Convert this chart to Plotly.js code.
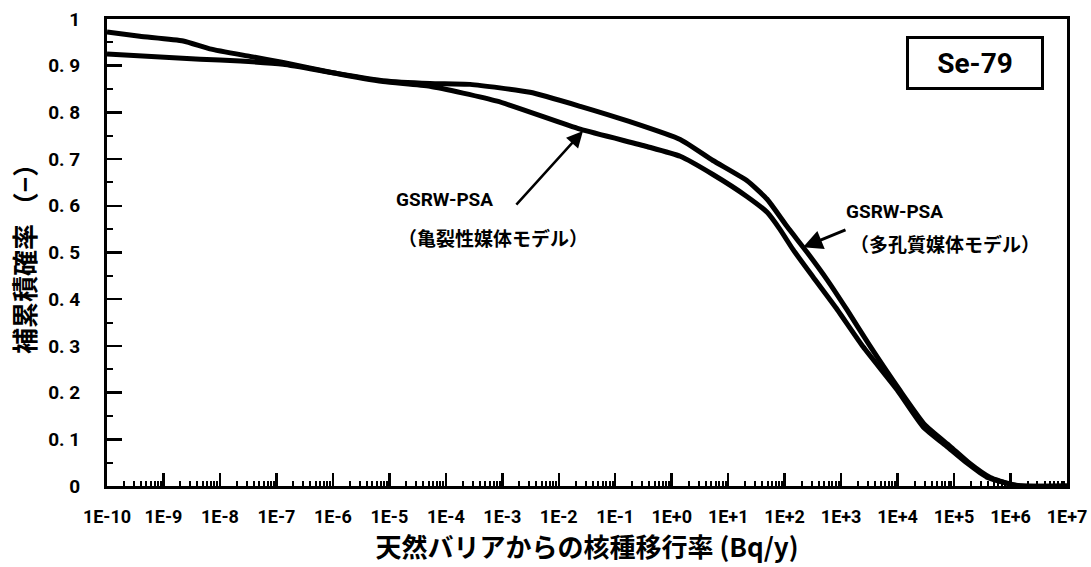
<!DOCTYPE html>
<html>
<head>
<meta charset="utf-8">
<script src="https://cdn.plot.ly/plotly-3.0.1.min.js"></script>
<style>
html,body{margin:0;padding:0;background:#fff;}
#chart{width:1091px;height:567px;}
</style>
</head>
<body>
<div id="chart"></div>
<script>
// Fractured medium model (亀裂性媒体モデル): log10 of release rate (Bq/y) and complementary cumulative probability
const fracLogX = [-10, -9.42, -8.65, -8.18, -7.47, -6.88, -6.0, -5.11, -4.28, -3.09, -1.62, -0.44, 0.15, 0.73, 1.33, 1.69, 1.92, 2.15, 2.50, 2.93, 3.39, 3.99, 4.45, 4.88, 5.23, 5.58, 5.94, 6.17, 7];
const fracP    = [0.972, 0.963, 0.953, 0.936, 0.92, 0.907, 0.885, 0.866, 0.856, 0.824, 0.764, 0.727, 0.706, 0.667, 0.62, 0.586, 0.549, 0.506, 0.448, 0.378, 0.298, 0.206, 0.127, 0.084, 0.049, 0.019, 0.006, 0, 0];
// Porous medium model (多孔質媒体モデル)
const poroLogX = [-10, -8.35, -7.64, -6.88, -6.0, -5.11, -4.28, -3.57, -2.51, -1.62, -0.74, 0.15, 0.73, 1.33, 1.69, 2.04, 2.40, 2.75, 3.10, 3.51, 4.04, 4.49, 4.93, 5.28, 5.64, 5.99, 6.26, 7];
const poroP    = [0.925, 0.914, 0.91, 0.903, 0.885, 0.868, 0.862, 0.86, 0.843, 0.813, 0.78, 0.742, 0.697, 0.654, 0.614, 0.556, 0.5, 0.442, 0.378, 0.30, 0.205, 0.13, 0.085, 0.048, 0.018, 0.004, 0, 0];

const xTickExp = [-10,-9,-8,-7,-6,-5,-4,-3,-2,-1,0,1,2,3,4,5,6,7];
const xTickText = ["1E-10","1E-9","1E-8","1E-7","1E-6","1E-5","1E-4","1E-3","1E-2","1E-1","1E+0","1E+1","1E+2","1E+3","1E+4","1E+5","1E+6","1E+7"];
const yTickVals = [0,0.1,0.2,0.3,0.4,0.5,0.6,0.7,0.8,0.9,1];
const yTickText = ["0","0. 1","0. 2","0. 3","0. 4","0. 5","0. 6","0. 7","0. 8","0. 9","1"];

const pow10 = a => a.map(e => Math.pow(10, e));
const minorVals = [];
for (let k = -10; k < 7; k++) for (let m = 2; m <= 9; m++) minorVals.push(m * Math.pow(10, k));

const latin = "Roboto, 'Liberation Sans', sans-serif";
const cjk = "'Noto Sans CJK JP', 'Noto Sans', sans-serif";

const traces = [
  {x: pow10(fracLogX), y: fracP, mode: 'lines', line: {color: '#000', width: 5, shape: 'spline', smoothing: 0.5}, name: '亀裂性媒体モデル', showlegend: false},
  {x: pow10(poroLogX), y: poroP, mode: 'lines', line: {color: '#000', width: 5, shape: 'spline', smoothing: 0.5}, name: '多孔質媒体モデル', showlegend: false},
  {x: [1e-10], y: [0], xaxis: 'x2', mode: 'markers', marker: {opacity: 0}, showlegend: false, hoverinfo: 'skip'}
];

const layout = {
  width: 1091, height: 567,
  margin: {l: 107, r: 24, t: 19, b: 81},
  paper_bgcolor: '#fff', plot_bgcolor: '#fff',
  showlegend: false,
  xaxis: {
    type: 'log', range: [-10, 7],
    tickvals: pow10(xTickExp), ticktext: xTickText, tickangle: 0,
    ticks: 'inside', ticklen: 13, tickwidth: 2.5, tickcolor: '#000',
    showline: true, linewidth: 3, linecolor: '#000', mirror: true,
    showgrid: false, zeroline: false,
    ticklabelstandoff: 12,
    tickfont: {family: latin, size: 18, color: '#000', weight: 'bold'},
    title: {text: '天然バリアからの核種移行率 (Bq/y)', font: {family: cjk, size: 26, color: '#000', weight: 'bold'}, standoff: 0}
  },
  xaxis2: {
    type: 'log', range: [-10, 7], overlaying: 'x',
    tickvals: minorVals, ticks: 'inside', ticklen: 5, tickwidth: 2, tickcolor: '#000',
    showticklabels: false, showgrid: false, zeroline: false, showline: false
  },
  yaxis: {
    range: [0, 1],
    tickvals: yTickVals, ticktext: yTickText,
    ticks: 'inside', ticklen: 15, tickwidth: 2.5, tickcolor: '#000',
    minor: {ticks: 'inside', ticklen: 6, tickwidth: 2, tickcolor: '#000', dtick: 0.05, showgrid: false},
    showline: true, linewidth: 3, linecolor: '#000', mirror: true,
    showgrid: false, zeroline: false,
    ticklabelstandoff: 20,
    tickfont: {family: latin, size: 19, color: '#000', weight: 'bold'},
    title: {text: '補累積確率 （−）', font: {family: cjk, size: 26, color: '#000', weight: 'bold'}, standoff: 6}
  },
  annotations: [
    {x: -4.03, y: 0.614, xref: 'x', yref: 'y', text: 'GSRW-PSA', showarrow: false, font: {family: latin, size: 19, color: '#000', weight: 'bold'}},
    {x: -3.17, y: 0.532, xref: 'x', yref: 'y', text: '（亀裂性媒体モデル）', showarrow: false, font: {family: cjk, size: 19, color: '#000', weight: 'bold'}},
    {x: -1.571, y: 0.76, xref: 'x', yref: 'y', text: '', showarrow: true, ax: -68, ay: 75, arrowhead: 2, arrowsize: 1.3, arrowwidth: 2.5, arrowcolor: '#000'},
    {x: 3.95, y: 0.588, xref: 'x', yref: 'y', text: 'GSRW-PSA', showarrow: false, font: {family: latin, size: 19, color: '#000', weight: 'bold'}},
    {x: 4.84, y: 0.519, xref: 'x', yref: 'y', text: '（多孔質媒体モデル）', showarrow: false, font: {family: cjk, size: 19, color: '#000', weight: 'bold'}},
    {x: 2.325, y: 0.511, xref: 'x', yref: 'y', text: '', showarrow: true, ax: 44, ay: -18, arrowhead: 2, arrowsize: 1.3, arrowwidth: 3, arrowcolor: '#000'},
    {x: 5.37, y: 0.906, xref: 'x', yref: 'y', text: 'Se-79', showarrow: false, width: 128, height: 44, bordercolor: '#000', borderwidth: 3, borderpad: 2, bgcolor: '#fff', font: {family: latin, size: 28, color: '#000', weight: 'bold'}}
  ]
};

Plotly.newPlot('chart', traces, layout, {displayModeBar: false, staticPlot: true});
</script>
</body>
</html>
